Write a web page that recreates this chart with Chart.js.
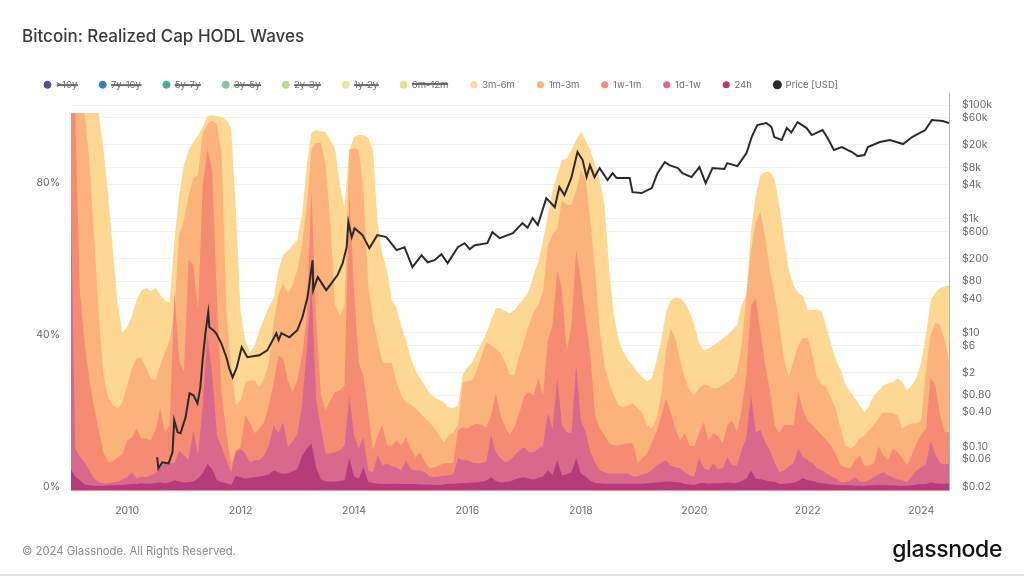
<!DOCTYPE html>
<html>
<head>
<meta charset="utf-8">
<title>Bitcoin: Realized Cap HODL Waves</title>
<script src="https://cdn.jsdelivr.net/npm/chart.js@4"></script>
<style>
    html, body { margin: 0; padding: 0; background: #fff; }
    #page { position: relative; width: 1024px; height: 576px; overflow: hidden; font-family: Inter, sans-serif; }
    #page canvas { position: absolute; left: 0; top: 0; }
    #title { position: absolute; left: 22px; top: 26px; font-size: 17px; font-weight: 500; color: #3a3a3a; }
    #copy { position: absolute; left: 22px; top: 544px; font-size: 11.3px; color: #8a8a8a; }
    #logo { position: absolute; right: 22px; top: 535px; font-size: 23px; font-weight: 500; letter-spacing: -0.4px; color: #111; }
    #rule { position: absolute; left: 0; right: 0; top: 574px; height: 2px; background: #e6e6e6; }
</style>
</head>
<body>
<div id="page">
    <canvas id="wavesChart" width="1024" height="576"></canvas>
    <div id="title">Bitcoin: Realized Cap HODL Waves</div>
    <div id="copy">© 2024 Glassnode. All Rights Reserved.</div>
    <div id="logo">glassnode</div>
    <div id="rule"></div>
</div>
<script>
// legend names, older bands are switched off in the source chart
const hiddenBands = ['>10y', '7y-10y', '5y-7y', '3y-5y', '2y-3y', '1y-2y', '6m-12m'];
const hiddenColors = ['#5b4a9e', '#3b80b2', '#45a898', '#88c79a', '#b9d98c', '#e4e89a', '#efdc82'];

const percentTicks = [0, 40, 80];
const yearTicks = [2010, 2012, 2014, 2016, 2018, 2020, 2022, 2024];
const priceTicks = [100000, 60000, 20000, 8000, 4000, 1000, 600, 200, 80, 40, 10, 6, 2, 0.8, 0.4, 0.1, 0.06, 0.02];

// monthly readings from Jan 2009, one row per year, top edge of each band in %
const band3m6m = [
    98.5,98.5,98.5,98.5,98.5,98.5,98.5,88.7,76.8,62,48,40.6,
    42,44.9,49.1,51.7,52.3,51.5,52.3,50.4,49,48.6,65,76.8,
    84.7,88.7,90.8,92.7,94.8,97.7,97.9,97.7,97.4,96.6,94.5,72.9,
    46.5,38.5,35.4,37.2,41.2,44.4,47.3,49.6,57,61,62.3,63.6,
    65,71.5,84.7,93.2,94,93.7,93.5,91.3,89.2,79.5,73.4,88.7,
    92.1,92.7,92.7,91.9,88.7,69.4,61,57,49,47,42.2,38.5,
    33.8,30.6,28.5,26.6,24.5,23.5,22.7,22.2,20.8,20.6,21.4,29.3,
    31.4,32.7,35.4,37.8,40.4,43.8,47,47,46.2,45.7,46.5,48.3,
    49.6,51.7,55.7,59.1,65,71.5,78,82.1,86,86.5,88.7,91.3,
    93.5,91.3,88.7,84.7,80.8,74.2,57,45.1,38.5,35.4,33.3,31.9,
    30.1,28.8,27.7,28.5,33.3,38.5,45.9,49.1,49.9,49.6,48.3,45.9,
    42.5,37.8,35.9,36.4,37.2,38,39.1,39.9,41.2,42.5,47.8,50.4,
    67.6,76.8,82.1,82.9,82.9,80.8,74.2,64.9,57,53.1,51,50.2,
    46.5,46.5,46.7,45.9,41.7,37.2,33.3,30.6,26.9,24.8,23.2,21.4,
    19.5,21.4,24,25.3,26.7,27.2,27.5,28.5,27.5,25.3,26.7,28.5,
    32.7,39.9,49.1,51.2,52.3,52.8,53.1
];
const band1m3m = [
    98.5,98.5,98.5,98.5,86,66.3,45.1,29.3,23.5,21.4,20.6,22.2,
    26.7,31.2,33.8,34,31.2,28.5,28,32,35.4,38.5,46.5,66.3,
    70.2,76.8,81.3,82.1,93.2,95.6,96.6,95.3,87.4,46.5,31.9,21.4,
    22.7,27.5,28,28,26.1,28.5,32.5,43.3,50.4,53.6,51,53.1,
    57,63.6,74.2,89,90.6,90.6,84.7,68.9,47.8,45.1,47.8,88.7,
    89.2,88.7,78.1,53.1,43.8,38.5,32.7,32.5,32.5,27.5,24,22.2,
    21.6,20.6,19.3,18,16.9,15.3,13.5,11.6,13.5,14.3,16.1,27.5,
    27.7,28,30.6,34.6,38,37.2,36.4,35.1,32.7,29.3,29.6,34.6,
    38.5,42.5,45.9,47.8,51.7,63.6,66.3,68.1,75.5,74.2,74.2,78.1,
    83.4,80.8,70.2,57,41.2,31.9,27.2,24,21.4,20.9,21.4,21.9,
    20.6,19.3,16.1,15.3,18,24,35.9,41.7,39,33.3,28.5,25.3,
    24,25.9,26.9,26.6,25.9,25.9,26.7,27.5,28.5,30.1,37.2,50.4,
    62.3,69.7,72.4,65.5,57,50.4,42.5,33.3,28.8,33.3,37.2,39.1,
    39.1,34.6,28.5,26.9,26.1,23.2,20.1,14.8,10.8,10,10.8,12.7,
    13.5,14.8,16.1,18,19.5,19.5,19.3,18.7,15.3,16.1,16.6,16.6,
    17.4,30.6,39.9,43.3,42.5,38.5,31.9
];
const band1w1m = [
    98.5,98.5,51.2,37.8,28,20.9,14.8,8.9,6.3,6.6,7.7,8.4,
    12.1,12.9,15.3,12.7,12.7,12.1,14.8,20.6,14.3,16.1,51.2,33.3,
    30.1,59.7,58.4,46.5,79.5,88.7,83.4,49.1,24,14.3,5.5,9.5,
    10.3,18.7,16.6,14,15.3,16.9,21.4,27.2,34.6,33.8,28,24.8,
    28,34.6,44.4,78.1,43.8,24,20.1,22.7,24.8,25.3,26.6,76.8,
    51.7,32.7,29,19.5,9.5,13.5,16.1,10.8,10.8,12.1,10.8,12.9,
    10,7.7,9,6.3,4.8,5,5.5,6.1,6.1,6.1,14.8,15.6,
    15.3,16.1,16.6,16.1,15.6,18.7,24.6,18.7,15.6,13.5,15.8,19.5,
    23.8,24.8,24,28.5,24,38.5,42.5,57,51.7,35.4,42.5,62.3,
    54.4,43.8,34.6,18.7,15.3,13.5,11.4,10.8,10.8,11.1,11.4,11.4,
    6.3,7.4,8.7,11.6,14.3,18.7,23.2,19.5,15.3,12.1,14,10.8,
    10.6,14,16.9,12.1,14,13.2,11.4,16.1,17.4,14.3,20.1,29.3,
    47.8,49.6,40.7,31.9,25.3,16.1,14,16.1,16.1,16.1,24.8,20.1,
    17.2,16.1,14.8,13.5,12.1,10.6,8.2,5.5,5,4.8,6.9,8.2,
    5.3,5.5,6.1,10.6,8.2,6.9,10,9,7.4,5.5,8.2,11.4,
    13.5,15.3,28.5,26.7,18.7,14.3,14.3
];
const band1d1w = [
    80.8,10,7.9,6.3,4.2,2.1,1.1,0.8,0.8,1.1,1.3,1.8,
    2.4,3.7,2.1,2.6,2.4,2.9,3.4,5,6.1,6.1,6.1,9.5,
    8.2,6.9,14.8,8.2,21.4,39.9,29.3,13.5,10.3,6.9,3.7,9,
    9.8,8.7,6.3,6.9,6.9,8.2,10.8,16.1,14,16.9,10.3,11.9,
    13.7,21.4,35.9,53.1,22.7,15.3,8.7,8.7,9,9.5,10.8,24,
    13.5,10,12.9,4.2,3.7,8.2,5.5,6.1,5.3,5,4.2,6.9,
    4.5,4.2,4.2,3.7,2.6,2.4,2.6,2.9,2.9,3.2,7.4,6.9,
    6.9,6.3,6.1,6.1,6.6,13.5,9,7.4,6.3,6.9,8.2,9.5,
    10.3,9,9,10,10.8,19.3,15.3,28.5,16.1,14.3,14,31.9,
    17.4,14.3,9,6.3,4.2,3.7,3.4,3.4,3.4,3.4,3.4,2.6,
    2.6,3.2,3.4,4.2,5.5,6.3,6.9,5.5,5,4.8,3.7,2.9,
    2.6,7.4,4.8,4.2,6.1,4.5,4.8,7.7,5.5,5.5,9.5,12.9,
    24,14.3,14.8,11.6,9.5,6.3,3.7,4.2,5.3,6.1,10,7.7,
    6.9,6.1,4.8,4.2,3.4,2.6,2.1,1.1,1.1,1.6,2.4,1.3,
    1.1,1.6,2.4,3.2,3.7,2.9,2.4,1.8,1.6,1.1,2.6,4.2,
    5,5.8,12.1,8.2,6.1,5.8,6.1
];
const band24h = [
    4.8,2.6,1.6,0.5,0.3,0.2,0.2,0.2,0.3,0.3,0.4,0.4,
    0.5,0.6,0.6,0.8,0.7,0.7,0.9,1,0.8,1,1.6,1.3,
    1,1.1,1.3,2.1,3.5,6,4.5,1.6,1.1,0.8,0.4,2.8,
    2.4,2,2.3,2.4,2.6,2.9,3.2,4.2,3.7,3.3,3.5,4,
    4.5,8,10,11.3,5,1.8,1.3,1.3,1.3,1.4,1.6,7.5,
    2.6,2,5,1.2,0.9,0.7,0.6,0.7,0.6,0.7,0.6,0.6,
    0.6,0.6,0.5,0.5,0.5,0.4,0.4,0.5,0.7,0.6,0.8,0.9,
    0.9,1,1,1.2,1.5,2.4,1.4,1,1.2,1.3,1.8,2.2,
    2.4,2,1.8,2.2,2.6,4.2,3,6.9,2.9,3.2,3.7,7.5,
    3.4,2.6,1.5,0.9,0.8,0.7,0.7,0.7,0.7,0.7,0.7,0.7,
    0.7,0.7,0.8,0.9,1,1.1,1.3,1.2,1.1,1,0.6,0.5,
    0.4,0.8,0.9,0.7,0.8,0.8,0.9,1,0.9,0.9,1.4,2,
    4.2,2,1.9,1.6,1.3,1.2,0.6,0.7,0.8,0.9,1.4,2.2,
    1.6,1.4,1,0.8,0.7,0.5,0.4,0.3,0.3,0.3,0.2,0.2,
    0.2,0.3,0.3,0.4,0.3,0.3,0.3,0.2,0.2,0.2,0.3,0.5,
    0.6,0.6,1.1,0.8,0.7,0.7,0.8
];

// price line has its own uneven dates so the tops and bottoms stay in
const priceYears = [
    2010.53,2010.55,2010.62,2010.73,2010.80,2010.83,2010.89,2010.94,2011.03,2011.10,2011.17,2011.24,
    2011.29,2011.33,2011.38,2011.43,2011.45,2011.52,2011.57,2011.66,2011.75,2011.80,2011.86,2011.93,
    2012.02,2012.12,2012.33,2012.47,2012.63,2012.67,2012.72,2012.86,2013.00,2013.09,2013.18,2013.27,
    2013.28,2013.36,2013.51,2013.71,2013.80,2013.87,2013.90,2013.96,2014.01,2014.15,2014.27,2014.41,
    2014.57,2014.75,2014.89,2015.03,2015.19,2015.30,2015.42,2015.54,2015.65,2015.83,2015.95,2016.04,
    2016.13,2016.35,2016.44,2016.57,2016.80,2016.97,2017.06,2017.15,2017.24,2017.39,2017.54,2017.62,
    2017.71,2017.83,2017.94,2018.03,2018.10,2018.16,2018.24,2018.33,2018.47,2018.56,2018.63,2018.86,
    2018.91,2019.07,2019.25,2019.35,2019.48,2019.56,2019.71,2019.79,2019.95,2020.09,2020.20,2020.32,
    2020.53,2020.58,2020.76,2020.92,2021.01,2021.11,2021.27,2021.36,2021.41,2021.54,2021.63,2021.71,
    2021.82,2021.98,2022.07,2022.26,2022.35,2022.46,2022.60,2022.78,2022.88,2023.00,2023.06,2023.27,
    2023.45,2023.68,2023.84,2024.07,2024.19,2024.38,2024.49
];
const priceUsd = [
    0.0646,0.0414,0.0528,0.0507,0.0791,0.289,0.178,0.171,0.327,0.863,0.796,0.575,
    1.1,3.28,9.8,22.9,12.5,11.1,9.8,6.5,3.71,2.37,1.65,2.4,
    5.56,3.71,4.02,4.9,9.8,7.4,9.8,8.3,11.1,18.7,42,188,
    56,95,56,103,167,318,877,478,687,518,306,518,
    478,282,318,142,230,173,188,240,167,318,374,294,
    345,374,585,458,561,841,700,1030,776,2317,1607,3617,
    2612,5200,14930,10790,5420,8810,5420,7800,4800,6370,5200,5200,
    2951,2838,3467,6370,9960,8810,7800,6370,5420,8130,4246,7800,
    7500,9550,8450,14320,27350,44500,48200,41000,27350,24270,39400,33000,
    50200,39400,29660,36300,26300,16180,18240,14930,12680,13210,18240,22340,
    24270,20600,27350,36300,54500,52300,48200
];

const months = band3m6m.map((_, i) => 2009 + i / 12);
const toPoints = (xs, ys) => ys.map((y, i) => ({ x: xs[i], y }));

function waveDataset(label, values, color, order) {
    return {
        label, order,
        data: toPoints(months, values),
        yAxisID: 'y',
        borderWidth: 0,
        borderColor: color,
        backgroundColor: color,
        fill: 'start',
        pointRadius: 0,
        tension: 0
    };
}

function formatPrice(v) {
    if (v >= 1000) return '$' + (v / 1000) + 'k';
    if (v >= 1) return '$' + v;
    return '$' + v.toFixed(2);
}

const axisFont = { family: 'Inter', size: 10.5 };

new Chart(document.getElementById('wavesChart'), {
    type: 'line',
    data: {
        datasets: [
            ...hiddenBands.map((label, i) => ({
                label, data: [], hidden: true, yAxisID: 'y',
                borderColor: hiddenColors[i], backgroundColor: hiddenColors[i]
            })),
            waveDataset('3m-6m', band3m6m, '#fdd893', 5),
            waveDataset('1m-3m', band1m3m, '#fcb27b', 4),
            waveDataset('1w-1m', band1w1m, '#f48b72', 3),
            waveDataset('1d-1w', band1d1w, '#d8688c', 2),
            waveDataset('24h', band24h, '#b53c79', 1),
            {
                label: 'Price [USD]', order: 0,
                data: toPoints(priceYears, priceUsd),
                yAxisID: 'y2',
                borderColor: '#2a2a2a',
                backgroundColor: '#2a2a2a',
                borderWidth: 2,
                pointRadius: 0,
                fill: false,
                tension: 0
            }
        ]
    },
    options: {
        responsive: false,
        animation: false,
        layout: { padding: { top: 58, left: 22, right: 24, bottom: 53 } },
        plugins: {
            legend: {
                position: 'top',
                align: 'start',
                maxHeight: 35,
                onClick: null,
                labels: {
                    usePointStyle: true,
                    pointStyle: 'circle',
                    boxWidth: 7,
                    boxHeight: 5,
                    padding: 22,
                    color: '#6a6a6a',
                    font: { family: 'Inter', size: 9.5 },
                    sort: (a, b) => a.datasetIndex - b.datasetIndex
                }
            },
            tooltip: { enabled: false }
        },
        scales: {
            x: {
                type: 'linear',
                min: 2009.01,
                max: 2024.49,
                afterBuildTicks: axis => { axis.ticks = yearTicks.map(value => ({ value })); },
                grid: { display: false },
                border: { color: '#eda3c2', width: 1 },
                ticks: {
                    autoSkip: false,
                    maxRotation: 0,
                    padding: 6,
                    color: '#6a6a6a',
                    font: axisFont,
                    callback: v => String(v)
                }
            },
            y: {
                type: 'linear',
                min: -1.056,
                max: 103.76,
                afterFit: axis => { axis.width = 49; },
                afterBuildTicks: axis => { axis.ticks = percentTicks.map(value => ({ value })); },
                grid: { display: false },
                border: { display: false },
                ticks: { autoSkip: false, color: '#6a6a6a', font: axisFont, callback: v => v + '%' }
            },
            y2: {
                type: 'logarithmic',
                position: 'right',
                min: 0.017,
                max: 162600,
                afterFit: axis => { axis.width = 51; },
                afterBuildTicks: axis => { axis.ticks = priceTicks.map(value => ({ value })); },
                grid: { color: '#f2f2f2', drawTicks: false },
                border: { color: '#b5b5b5' },
                ticks: { autoSkip: false, padding: 13, color: '#6a6a6a', font: axisFont, callback: formatPrice }
            }
        }
    }
});
</script>
</body>
</html>
